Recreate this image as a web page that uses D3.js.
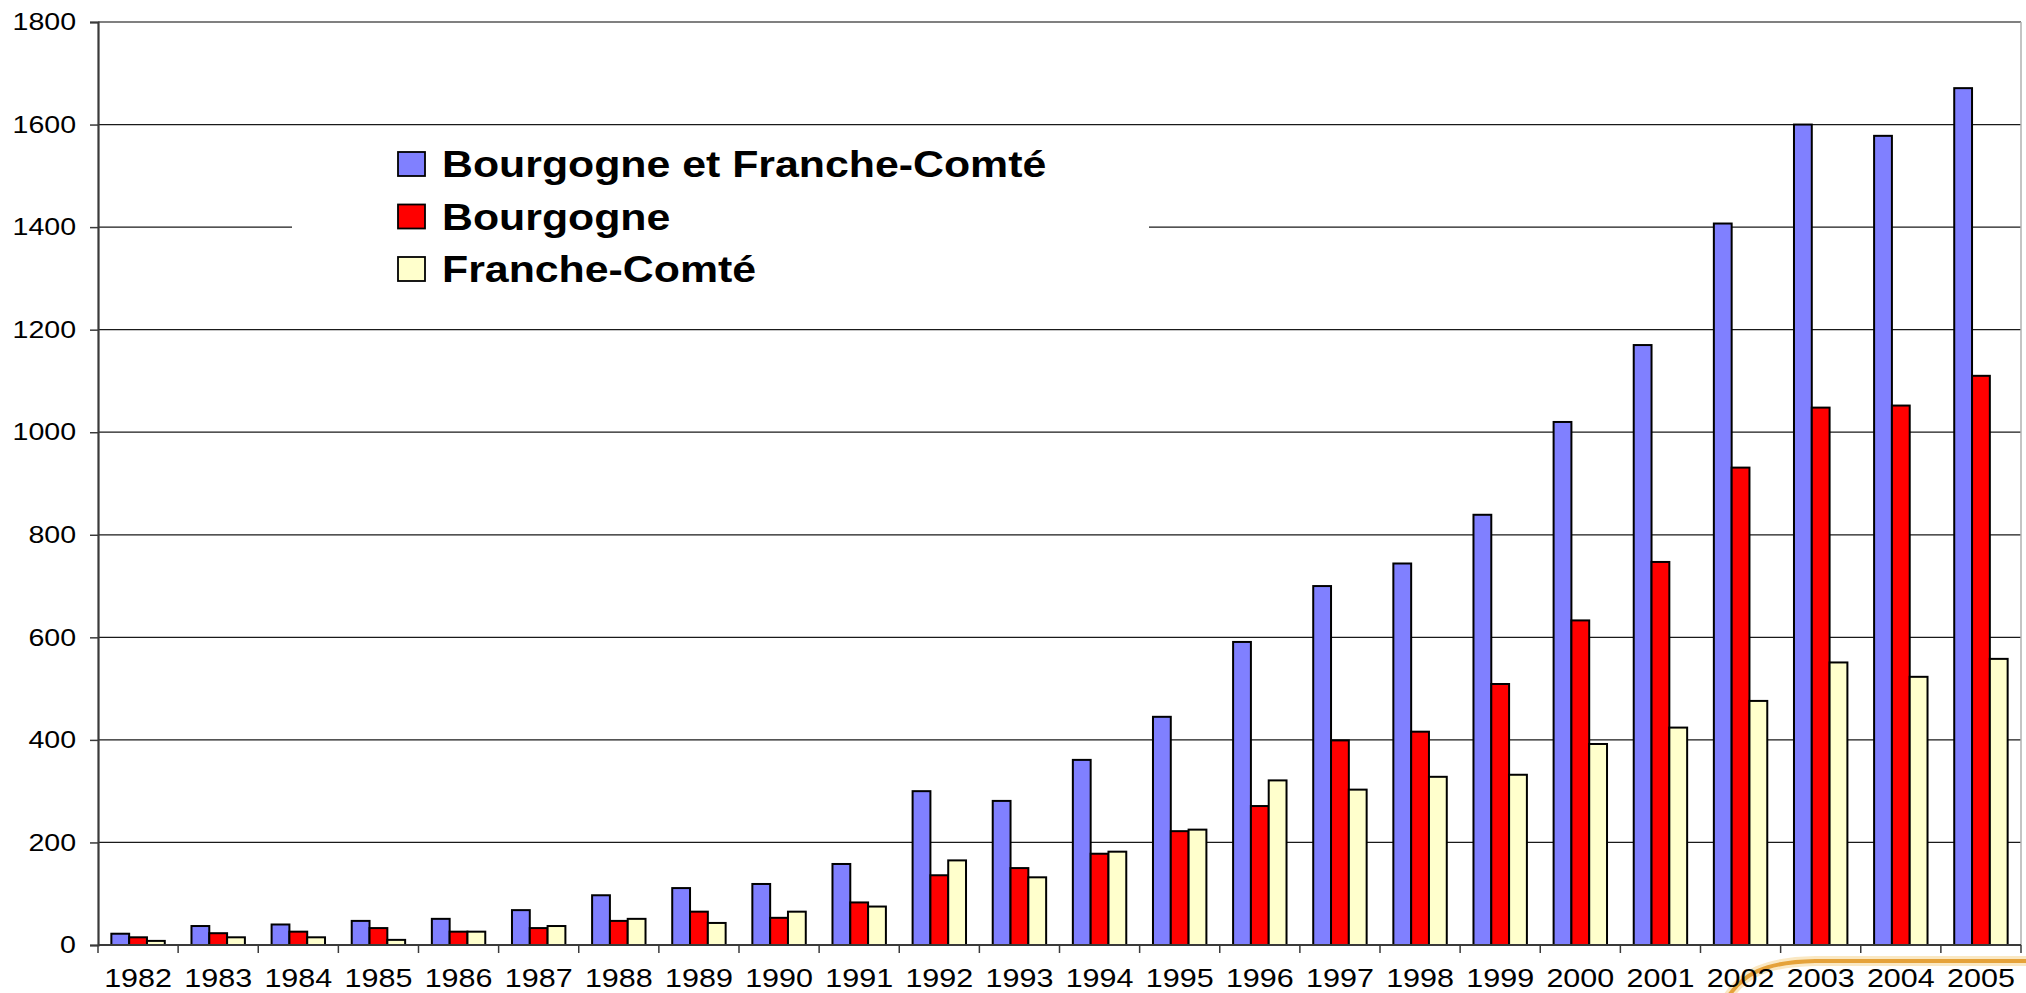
<!DOCTYPE html>
<html>
<head>
<meta charset="utf-8">
<script src="https://cdn.jsdelivr.net/npm/d3@7"></script>
<style>
  html, body { margin: 0; padding: 0; background: #fff; }
  svg { display: block; }
</style>
</head>
<body>
<div id="chart"></div>
<script>
// ── Data ───────────────────────────────────────────────────────
const years = ['1982', '1983', '1984', '1985', '1986', '1987', '1988', '1989',
  '1990', '1991', '1992', '1993', '1994', '1995', '1996', '1997', '1998', '1999',
  '2000', '2001', '2002', '2003', '2004', '2005'];
const seriesNames = ['Bourgogne et Franche-Comté', 'Bourgogne', 'Franche-Comté'];
const bourgogneFC = [22, 37, 40, 47, 51, 68, 97, 111, 119, 158, 300, 281, 361, 445,
  591, 700, 744, 839, 1020, 1170, 1407, 1600, 1578, 1671];
const bourgogne = [15, 23, 26, 33, 26, 33, 47, 65, 53, 83, 136, 150, 178, 222,
  271, 399, 416, 509, 633, 747, 931, 1048, 1052, 1110];
const francheComte = [8, 15, 15, 10, 26, 37, 51, 43, 65, 75, 165, 132, 182, 225,
  321, 303, 328, 332, 392, 424, 476, 551, 523, 558];
const yTicks = [0, 200, 400, 600, 800, 1000, 1200, 1400, 1600, 1800];

// ── Chart ──────────────────────────────────────────────────────
const d3 = window.d3;
const width = 2026, height = 993;
const margin = { top: 22, right: 5, bottom: 48, left: 98 };
const W = width - margin.left - margin.right;
const H = height - margin.top - margin.bottom;
const SX = 1.19;   // the original picture is stretched horizontally

const keys = ['bfc', 'b', 'fc'];
const colors = { bfc: '#8080FF', b: '#FF0000', fc: '#FFFFCC' };
const rows = years.map((y, i) => ({ year: y, bfc: bourgogneFC[i], b: bourgogne[i], fc: francheComte[i] }));

const svg = d3.select('#chart').append('svg')
  .attr('width', width)
  .attr('height', height);

// decorative orange swoosh from the slide background
const swoosh = 'M1726,1000 C1742,974 1764,962 1815,961 L2030,961';
svg.append('path').attr('d', swoosh)
  .attr('fill', 'none').attr('stroke', '#F8DEAA')
  .attr('stroke-width', 10).attr('opacity', 0.7);
svg.append('path').attr('d', swoosh)
  .attr('fill', 'none').attr('stroke', '#E5A23A')
  .attr('stroke-width', 4);

const g = svg.append('g').attr('transform', `translate(${margin.left},${margin.top})`);

const x0 = d3.scaleBand().domain(years).range([0, W]).padding(0);
const x1 = d3.scaleBand().domain(keys).range([0, x0.bandwidth()]).paddingInner(0).paddingOuter(0.75);
const y = d3.scaleLinear().domain([0, 1800]).range([H, 0]);

// gridlines
g.append('g')
  .selectAll('line')
  .data(yTicks.filter(t => t > 0 && t < 1800))
  .enter().append('line')
  .attr('x1', 0).attr('x2', W)
  .attr('y1', d => y(d)).attr('y2', d => y(d))
  .attr('stroke', '#1a1a1a')
  .attr('stroke-width', 1.2);

// plot border (top and right)
g.append('line').attr('x1', 0).attr('x2', W).attr('y1', 0).attr('y2', 0)
  .attr('stroke', '#808080').attr('stroke-width', 2);
g.append('line').attr('x1', W).attr('x2', W).attr('y1', 0).attr('y2', H)
  .attr('stroke', '#b0b0b0').attr('stroke-width', 1.5);

// bars
g.selectAll('.year')
  .data(rows)
  .enter().append('g')
  .attr('class', 'year')
  .attr('transform', d => `translate(${x0(d.year)},0)`)
  .selectAll('rect')
  .data(d => keys.map(k => ({ key: k, value: d[k] })))
  .enter().append('rect')
  .attr('x', d => x1(d.key))
  .attr('y', d => y(d.value))
  .attr('width', x1.bandwidth())
  .attr('height', d => H - y(d.value))
  .attr('fill', d => colors[d.key])
  .attr('stroke', '#000')
  .attr('stroke-width', 2);

// Y axis
const yAxisG = g.append('g')
  .call(d3.axisLeft(y).tickValues(yTicks).tickFormat(d3.format('d')).tickSize(8).tickPadding(0));
yAxisG.select('.domain').attr('stroke', '#3a3a3a').attr('stroke-width', 2.2);
yAxisG.selectAll('.tick line').attr('stroke', '#3a3a3a').attr('stroke-width', 1.5);
yAxisG.selectAll('.tick text')
  .attr('x', -22 / SX)
  .attr('transform', `scale(${SX},1)`)
  .attr('fill', '#000')
  .attr('font-family', "'Liberation Sans', Arial, sans-serif")
  .attr('font-size', '24px');

// X axis line + boundary ticks
g.append('line').attr('x1', 0).attr('x2', W).attr('y1', H).attr('y2', H)
  .attr('stroke', '#3a3a3a').attr('stroke-width', 2);
g.append('g')
  .selectAll('line')
  .data(years.map(yy => x0(yy)).concat([W]))
  .enter().append('line')
  .attr('x1', d => d).attr('x2', d => d)
  .attr('y1', H).attr('y2', H + 8)
  .attr('stroke', '#3a3a3a').attr('stroke-width', 1.5);

// X labels
const xAxisG = g.append('g')
  .attr('transform', `translate(0,${H})`)
  .call(d3.axisBottom(x0).tickSize(0).tickPadding(0));
xAxisG.select('.domain').remove();
xAxisG.selectAll('.tick text')
  .attr('x', 0)
  .attr('y', 24)
  .attr('transform', 'scale(1.22,1)')
  .attr('fill', '#000')
  .attr('font-family', "'Liberation Sans', Arial, sans-serif")
  .attr('font-size', '25px');

// Legend (white box hides the gridlines behind it)
const legend = svg.append('g');
legend.append('rect')
  .attr('x', 292).attr('y', 140)
  .attr('width', 857).attr('height', 170)
  .attr('fill', '#fff');
seriesNames.forEach((name, i) => {
  const row = legend.append('g').attr('transform', `translate(398,${152 + i * 52.5})`);
  row.append('rect')
    .attr('width', 27).attr('height', 24)
    .attr('fill', colors[keys[i]])
    .attr('stroke', '#000')
    .attr('stroke-width', 1.8);
  row.append('text')
    .attr('transform', `translate(44,25) scale(${SX},1)`)
    .attr('fill', '#000')
    .attr('font-family', "'Liberation Sans', Arial, sans-serif")
    .attr('font-weight', 'bold')
    .attr('font-size', '36px')
    .text(name);
});
</script>
</body>
</html>
